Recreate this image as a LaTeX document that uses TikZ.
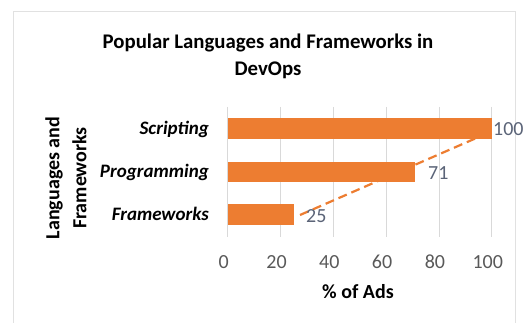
\documentclass[tikz,border=0pt]{standalone}
\usepackage{fontspec}
\setmainfont{Carlito}
\definecolor{barorange}{HTML}{ED7D31}
\definecolor{gridgray}{HTML}{D9D9D9}
\definecolor{ticktext}{HTML}{595959}
\definecolor{valtext}{HTML}{5B6478}
\begin{document}
\begin{tikzpicture}[x=1pt,y=-1pt,
  bar/.style={fill=barorange,draw=none},
  grid/.style={draw=gridgray,line width=0.8pt},
  cat/.style={anchor=east,font=\fontsize{19}{21}\selectfont\bfseries\itshape,inner sep=0pt},
  tick/.style={font=\fontsize{20}{22}\selectfont,text=ticktext,inner sep=0pt},
  val/.style={anchor=west,font=\fontsize{20}{22}\selectfont,text=valtext,inner sep=0pt},
  trend/.style={draw=barorange,line width=2.2pt,dash pattern=on 9pt off 5pt}]
  \useasboundingbox (0,0) rectangle (530,323);
  % chart frame
  \draw[draw=gridgray!80,fill=white,line width=0.8pt] (13,11) rectangle (515,330);
  % title
  \node[font=\fontsize{20.8}{27}\selectfont\bfseries,align=center] (title) at (268,56)
    {Popular Languages and Frameworks in\\DevOps};
  % vertical gridlines and tick labels
  \foreach \v in {0,20,...,100}{
    \coordinate (g\v) at ({227.7+2.64*\v},107);
    \draw[grid] (g\v) -- ++(0,130);
    \node[tick] (t\v) at ({223.7+2.64*\v},262) {\v};
  }
  % trendline (drawn beneath the bars)
  \coordinate (trA) at (300,215);
  \coordinate (trB) at (481,136);
  \draw[trend] (trA) -- (trB);
  % bars
  \fill[bar] (227.7,118) rectangle (491.7,139);
  \fill[bar] (227.7,162) rectangle (415.1,182);
  \fill[bar] (227.7,204) rectangle (293.7,225);
  % data labels
  \node[val] (v100) at (493,129) {100};
  \node[val] (v71) at (428,173) {71};
  \node[val] (v25) at (306,216) {25};
  % category labels
  \node[cat] (cS) at (209,129) {Scripting};
  \node[cat] (cP) at (209,172) {Programming};
  \node[cat] (cF) at (209,214) {Frameworks};
  % axis titles
  \node[font=\fontsize{20}{27}\selectfont\bfseries,align=center,rotate=90] (ytitle) at (66,178)
    {Languages and\\Frameworks};
  \node[font=\fontsize{20}{22}\selectfont\bfseries] (xtitle) at (358,292) {\% of Ads};
\end{tikzpicture}
\end{document}
